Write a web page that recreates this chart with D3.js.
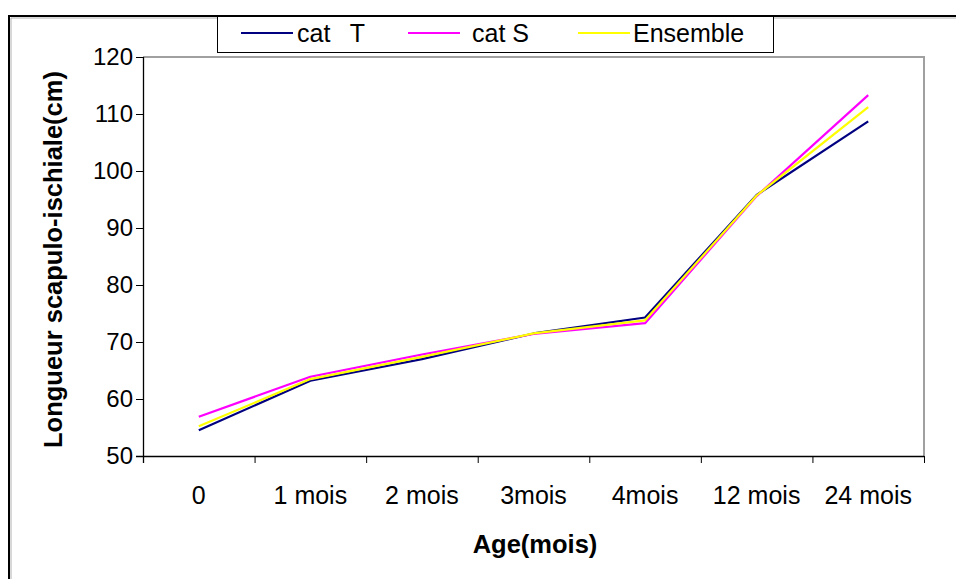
<!DOCTYPE html>
<html>
<head>
<meta charset="utf-8">
<script src="https://cdn.jsdelivr.net/npm/d3@7"></script>
<style>
  html, body { margin: 0; padding: 0; background: #fff; }
  svg { display: block; font-family: "Liberation Sans", Arial, sans-serif; }
</style>
</head>
<body>
<svg id="chart" width="956" height="579"></svg>
<script>
// Age classes along the x axis
const ages = ["0", "1 mois", "2 mois", "3mois", "4mois", "12 mois", "24 mois"];
// Mean scapulo-ischial length (cm) per age class
const catT = [54.5, 63.2, 67.0, 71.5, 74.3, 95.8, 108.7];
const catS = [56.9, 63.9, 67.8, 71.4, 73.3, 95.6, 113.3];
const ensemble = [55.2, 63.5, 67.4, 71.5, 73.8, 95.7, 111.2];
const yTicks = [50, 60, 70, 80, 90, 100, 110, 120];

const seriesList = [
  { name: "cat  T", values: catT, color: "#000080" },
  { name: "cat S", values: catS, color: "#ff00ff" },
  { name: "Ensemble", values: ensemble, color: "#ffff00" }
];

const svg = d3.select("#chart");
const plot = { left: 143, right: 924, top: 57, bottom: 456 };

// Outer chart frame (runs off the right and bottom edges)
svg.append("path")
  .attr("d", "M9,579 V16 H956")
  .attr("fill", "none").attr("stroke", "#000").attr("stroke-width", 2);
svg.append("path")
  .attr("d", "M11,579 V18 H956")
  .attr("fill", "none").attr("stroke", "#b0b0b0").attr("stroke-width", 1);

const x = d3.scaleBand().domain(ages).range([plot.left, plot.right]).padding(0);
const y = d3.scaleLinear().domain([50, 120]).range([plot.bottom, plot.top]);

// Plot area frame: grey top and right edges
svg.append("path")
  .attr("d", `M${plot.left},${plot.top} H${plot.right} V${plot.bottom}`)
  .attr("fill", "none").attr("stroke", "#a0a0a0").attr("stroke-width", 2);

// Y axis
const yAxis = svg.append("g")
  .attr("transform", `translate(${plot.left},0)`)
  .call(d3.axisLeft(y).tickValues(yTicks).tickSize(7).tickPadding(3).tickFormat(d3.format("d")));
yAxis.select(".domain").attr("stroke", "#000").attr("stroke-width", 1.3)
  .attr("d", `M0.5,${plot.top} V${plot.bottom + 7}`);
yAxis.selectAll(".tick line").attr("stroke", "#000");
yAxis.selectAll(".tick text")
  .attr("font-size", 24).attr("fill", "#000")
  .attr("font-family", "Liberation Sans, Arial, sans-serif");

// X axis: ticks sit between categories
const xAxisG = svg.append("g").attr("transform", `translate(0,${plot.bottom})`);
xAxisG.append("line")
  .attr("x1", plot.left - 7).attr("x2", plot.right)
  .attr("y1", 0.5).attr("y2", 0.5)
  .attr("stroke", "#000").attr("stroke-width", 1.3);
const boundaries = ages.map(a => x(a)).concat([x(ages[ages.length - 1]) + x.bandwidth()]);
xAxisG.selectAll("line.tk").data(boundaries).join("line")
  .attr("class", "tk")
  .attr("x1", d => d + 0.5).attr("x2", d => d + 0.5)
  .attr("y1", 0).attr("y2", 7)
  .attr("stroke", "#000");
xAxisG.selectAll("text").data(ages).join("text")
  .attr("x", d => x(d) + x.bandwidth() / 2)
  .attr("y", 48)
  .attr("text-anchor", "middle")
  .attr("font-size", 25)
  .text(d => d);

// Axis titles
svg.append("text")
  .attr("transform", `translate(62,${(plot.top + plot.bottom) / 2 + 3}) rotate(-90)`)
  .attr("text-anchor", "middle")
  .attr("font-size", 25.5).attr("font-weight", "bold")
  .text("Longueur scapulo-ischiale(cm)");
svg.append("text")
  .attr("x", 535).attr("y", 553)
  .attr("text-anchor", "middle")
  .attr("font-size", 25.5).attr("font-weight", "bold")
  .text("Age(mois)");

// Series lines
const line = d3.line()
  .x((d, i) => x(ages[i]) + x.bandwidth() / 2)
  .y(d => y(d));
svg.append("g").selectAll("path").data(seriesList).join("path")
  .attr("d", s => line(s.values))
  .attr("fill", "none")
  .attr("stroke", s => s.color)
  .attr("stroke-width", 2.2)
  .attr("stroke-linejoin", "round");

// Legend
const lg = svg.append("g");
lg.append("rect")
  .attr("x", 217.5).attr("y", 16.5).attr("width", 556).attr("height", 36)
  .attr("fill", "#fff").attr("stroke", "#000").attr("stroke-width", 1);
const legendPos = [241, 408, 578];
const legendText = [297, 472, 633];
seriesList.forEach((s, i) => {
  lg.append("line")
    .attr("x1", legendPos[i]).attr("x2", legendPos[i] + 52)
    .attr("y1", 33).attr("y2", 33)
    .attr("stroke", s.color).attr("stroke-width", 2);
  lg.append("text")
    .attr("x", legendText[i]).attr("y", 42)
    .attr("font-size", 25)
    .attr("xml:space", "preserve")
    .style("white-space", "pre")
    .style("word-spacing", i === 0 ? "3px" : "0px")
    .text(s.name);
});
</script>
</body>
</html>
